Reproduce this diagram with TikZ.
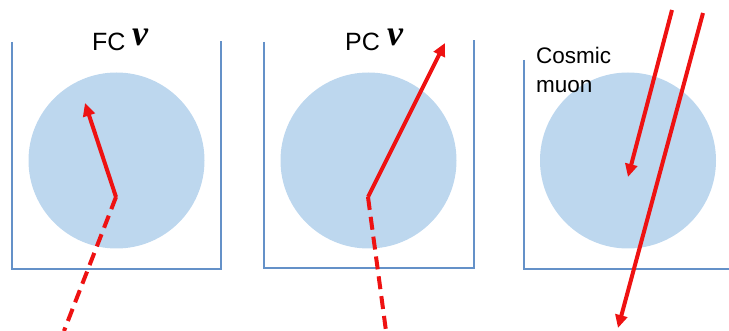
\documentclass[tikz,border=0pt]{standalone}
\usepackage{fontspec}
\setmainfont{Liberation Sans}
\newfontfamily\nufont{Liberation Serif}
\usetikzlibrary{arrows.meta}
\definecolor{wall}{RGB}{100,145,200}
\definecolor{water}{RGB}{189,215,238}
\definecolor{trk}{RGB}{238,18,18}
\begin{document}
\begin{tikzpicture}[x=1pt,y=-1pt,
  wallline/.style={draw=wall,line width=2.5pt},
  track/.style={draw=trk,line width=4pt},
  trackarrow/.style={track,-{Triangle[length=13pt,width=12pt]}},
  trackdash/.style={track,dash pattern=on 13pt off 7pt},
  label/.style={inner sep=0pt,anchor=base west,font=\fontsize{25}{28}\selectfont},
  nulabel/.style={inner sep=0pt,anchor=base west,font=\nufont\bfseries\itshape\fontsize{36}{38}\selectfont}]
\useasboundingbox (0,0) rectangle (729,331);
% panel 1: FC
\fill[water] (116.5,160.5) circle[radius=88];
\draw[wallline] (12,42) -- (12,269) -- (221,269) -- (221,41);
\node[label] (fc) at (92,51) {FC};
\node[nulabel] (nu1) at (132,46) {ν};
\coordinate (v1) at (116,197);
\coordinate (t1) at (85,103);
\coordinate (d1) at (64,331);
\draw[trackarrow] (v1) -- (t1);
\draw[trackdash] (v1) -- (d1);
% panel 2: PC
\fill[water] (368.5,160.5) circle[radius=88];
\draw[wallline] (264,42) -- (264,268) -- (474,268) -- (474,40);
\node[label] (pc) at (345,51) {PC};
\node[nulabel] (nu2) at (387,46) {ν};
\coordinate (v2) at (368,197);
\coordinate (t2) at (445,43);
\coordinate (d2) at (386,331);
\draw[trackarrow] (v2) -- (t2);
\draw[trackdash] (v2) -- (d2);
% panel 3: cosmic muon
\fill[water] (628,160.5) circle[radius=88];
\draw[wallline] (524,60) -- (524,269) -- (729,269);
\node[label,font=\fontsize{22.5}{26}\selectfont] (cos) at (536,64) {Cosmic};
\node[label,font=\fontsize{22.5}{26}\selectfont] (muon) at (536,93) {muon};
\coordinate (s1) at (672,10);
\coordinate (e1) at (628,177);
\coordinate (s2) at (703,13);
\coordinate (e2) at (618,328);
\draw[trackarrow] (s1) -- (e1);
\draw[trackarrow] (s2) -- (e2);
\end{tikzpicture}
\end{document}
